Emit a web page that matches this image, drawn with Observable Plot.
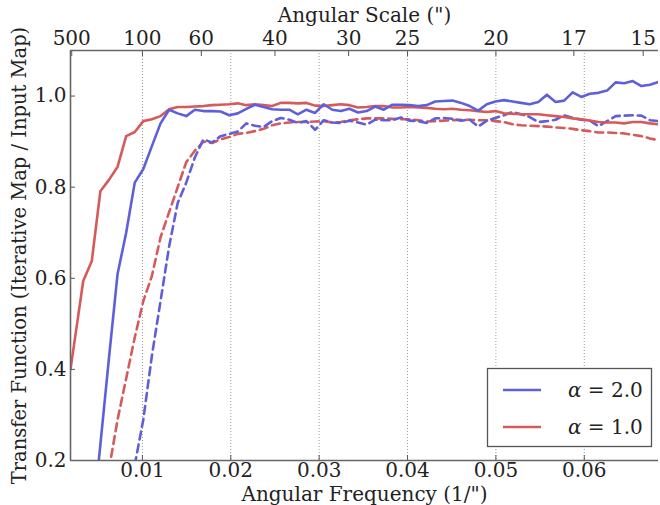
<!DOCTYPE html>
<html><head><meta charset="utf-8">
<script src="https://cdn.jsdelivr.net/npm/d3@7"></script>
<script src="https://cdn.jsdelivr.net/npm/@observablehq/plot@0.6"></script>
<style>body{margin:0;background:#fff} svg{display:block}</style>
</head><body><div id="chart"></div>
<script>
// Angular frequency (1/")
const freq = [0.00186, 0.00330, 0.00427, 0.00524, 0.00621, 0.00719, 0.00816, 0.00913, 0.01010, 0.01107, 0.01205, 0.01302, 0.01399, 0.01496, 0.01593, 0.01690, 0.01788, 0.01885, 0.01982, 0.02079, 0.02176, 0.02273, 0.02371, 0.02468, 0.02565, 0.02662, 0.02759, 0.02856, 0.02954, 0.03051, 0.03148, 0.03245, 0.03342, 0.03440, 0.03537, 0.03634, 0.03731, 0.03828, 0.03925, 0.04023, 0.04120, 0.04217, 0.04314, 0.04411, 0.04508, 0.04606, 0.04703, 0.04800, 0.04897, 0.04994, 0.05092, 0.05189, 0.05286, 0.05383, 0.05480, 0.05577, 0.05675, 0.05772, 0.05869, 0.05966, 0.06063, 0.06160, 0.06258, 0.06355, 0.06452, 0.06549, 0.06646, 0.06744, 0.06841];

// alpha = 2.0, solid
const alpha2Solid = [null, null, 0.046, 0.235, 0.424, 0.610, 0.700, 0.810, 0.840, 0.890, 0.940, 0.970, 0.962, 0.956, 0.970, 0.967, 0.967, 0.966, 0.958, 0.962, 0.972, 0.981, 0.976, 0.971, 0.970, 0.970, 0.960, 0.970, 0.963, 0.982, 0.970, 0.967, 0.972, 0.964, 0.967, 0.977, 0.970, 0.981, 0.981, 0.980, 0.978, 0.980, 0.988, 0.989, 0.990, 0.985, 0.978, 0.968, 0.982, 0.988, 0.991, 0.988, 0.985, 0.982, 0.987, 1.003, 0.987, 0.990, 1.008, 0.998, 1.005, 1.007, 1.012, 1.030, 1.028, 1.033, 1.022, 1.025, 1.031];
// alpha = 2.0, dashed
const alpha2Dashed = [null, null, null, null, null, null, null, 0.190, 0.290, 0.430, 0.550, 0.670, 0.765, 0.810, 0.865, 0.905, 0.898, 0.912, 0.917, 0.922, 0.940, 0.935, 0.932, 0.945, 0.952, 0.948, 0.941, 0.945, 0.926, 0.947, 0.942, 0.941, 0.946, 0.942, 0.937, 0.948, 0.947, 0.947, 0.953, 0.946, 0.945, 0.941, 0.951, 0.952, 0.950, 0.946, 0.948, 0.933, 0.946, 0.952, 0.958, 0.965, 0.960, 0.954, 0.943, 0.945, 0.948, 0.958, 0.952, 0.948, 0.946, 0.934, 0.945, 0.956, 0.957, 0.958, 0.957, 0.947, 0.945];
// alpha = 1.0, solid
const alpha1Solid = [0.400, 0.594, 0.638, 0.791, 0.816, 0.845, 0.912, 0.921, 0.945, 0.949, 0.956, 0.971, 0.976, 0.976, 0.977, 0.978, 0.980, 0.981, 0.982, 0.984, 0.980, 0.982, 0.980, 0.978, 0.985, 0.985, 0.984, 0.985, 0.979, 0.978, 0.980, 0.982, 0.980, 0.975, 0.976, 0.978, 0.978, 0.975, 0.975, 0.976, 0.975, 0.974, 0.972, 0.971, 0.972, 0.970, 0.969, 0.967, 0.965, 0.967, 0.962, 0.961, 0.960, 0.960, 0.960, 0.958, 0.956, 0.954, 0.951, 0.949, 0.946, 0.943, 0.942, 0.942, 0.940, 0.943, 0.943, 0.940, 0.938];
// alpha = 1.0, dashed
const alpha1Dashed = [null, null, null, null, 0.180, 0.290, 0.380, 0.470, 0.550, 0.605, 0.690, 0.745, 0.800, 0.855, 0.880, 0.900, 0.897, 0.905, 0.910, 0.917, 0.919, 0.923, 0.928, 0.936, 0.940, 0.942, 0.943, 0.943, 0.944, 0.945, 0.942, 0.943, 0.947, 0.949, 0.951, 0.951, 0.951, 0.950, 0.949, 0.949, 0.947, 0.944, 0.945, 0.946, 0.947, 0.948, 0.948, 0.947, 0.947, 0.945, 0.943, 0.938, 0.936, 0.935, 0.934, 0.933, 0.931, 0.930, 0.928, 0.925, 0.923, 0.920, 0.920, 0.919, 0.918, 0.915, 0.912, 0.907, 0.903];

const xTicks = [0.01, 0.02, 0.03, 0.04, 0.05, 0.06];
const yTicks = [0.2, 0.4, 0.6, 0.8, 1.0];
const scaleLabels = [500, 100, 60, 40, 30, 25, 20, 17, 15];
const legendLabels = ["2.0", "1.0"];
const xTitle = "Angular Frequency (1/\")";
const topTitle = "Angular Scale (\")";
const yTitle = "Transfer Function (Iterative Map / Input Map)";

const BLUE = "#5f5fda", RED = "#d65a5a";
const xDomain = [0.00186, 0.0684];
const yDomain = [0.2, 1.1];

const rows = (vals) => freq.map((f, i) => ({f, v: vals[i]}));
const lineOpts = (stroke, dash) => ({x: "f", y: "v", stroke, strokeWidth: 2.6, strokeDasharray: dash, clip: true, curve: "linear"});

const chart = Plot.plot({
  width: 660, height: 505,
  marginLeft: 70, marginRight: 2, marginTop: 50, marginBottom: 45,
  style: {fontFamily: "DejaVu Serif", fontSize: "20px", background: "white", color: "#222"},
  x: {domain: xDomain},
  y: {domain: yDomain},
  marks: [
    Plot.gridX(xTicks, {stroke: "#999", strokeOpacity: 1, strokeDasharray: "1,2", strokeWidth: 1}),
    Plot.line(rows(alpha1Dashed), lineOpts(RED, "8,5")),
    Plot.line(rows(alpha2Dashed), lineOpts(BLUE, "8,5")),
    Plot.line(rows(alpha1Solid), lineOpts(RED, null)),
    Plot.line(rows(alpha2Solid), lineOpts(BLUE, null)),
    Plot.axisX(xTicks, {anchor: "bottom", tickSize: -5, tickPadding: 7, fontSize: 20, tickFormat: d => d.toFixed(2), label: null, stroke: "#555"}),
    Plot.axisX(scaleLabels.map(s => 1 / s), {anchor: "top", tickSize: -5, tickPadding: 11, fontSize: 20, tickFormat: d => String(Math.round(1 / d)), label: null, stroke: "#555"}),
    Plot.axisY(yTicks, {anchor: "left", tickSize: -5, tickPadding: 9, fontSize: 20, tickFormat: d => d.toFixed(1), label: null, stroke: "#555"}),
    Plot.ruleY([yDomain[0], yDomain[1]], {stroke: "#666", strokeWidth: 1.6}),
    Plot.ruleX([xDomain[0]], {stroke: "#666", strokeWidth: 1.6}),
    Plot.text([xTitle], {frameAnchor: "bottom", lineAnchor: "middle", dy: 34, fontSize: 20}),
    Plot.text([topTitle], {frameAnchor: "top", lineAnchor: "middle", dy: -35, fontSize: 20}),
    Plot.text([yTitle], {frameAnchor: "left", textAnchor: "middle", lineAnchor: "middle", dx: -51, rotate: -90, fontSize: 19.5})
  ]
});

document.getElementById("chart").appendChild(chart);

// legend box
const svg = d3.select(chart);
const lg = svg.append("g").attr("font-family", "DejaVu Serif").attr("font-size", 20).attr("fill", "#222").attr("text-anchor", "start");
lg.append("rect").attr("x", 487.5).attr("y", 368.5).attr("width", 164).attr("height", 78)
  .attr("fill", "white").attr("stroke", "#555").attr("stroke-width", 1.3);
[[BLUE, legendLabels[0], 390], [RED, legendLabels[1], 427]].forEach(([c, lab, yy]) => {
  lg.append("line").attr("x1", 503).attr("x2", 541).attr("y1", yy).attr("y2", yy)
    .attr("stroke", c).attr("stroke-width", 2.6);
  const t = lg.append("text").attr("x", 568).attr("y", yy).attr("dy", "0.35em").attr("text-anchor", "start");
  t.append("tspan").attr("font-style", "italic").text("α");
  t.append("tspan").text(" = " + lab);
});
</script>
</body></html>
